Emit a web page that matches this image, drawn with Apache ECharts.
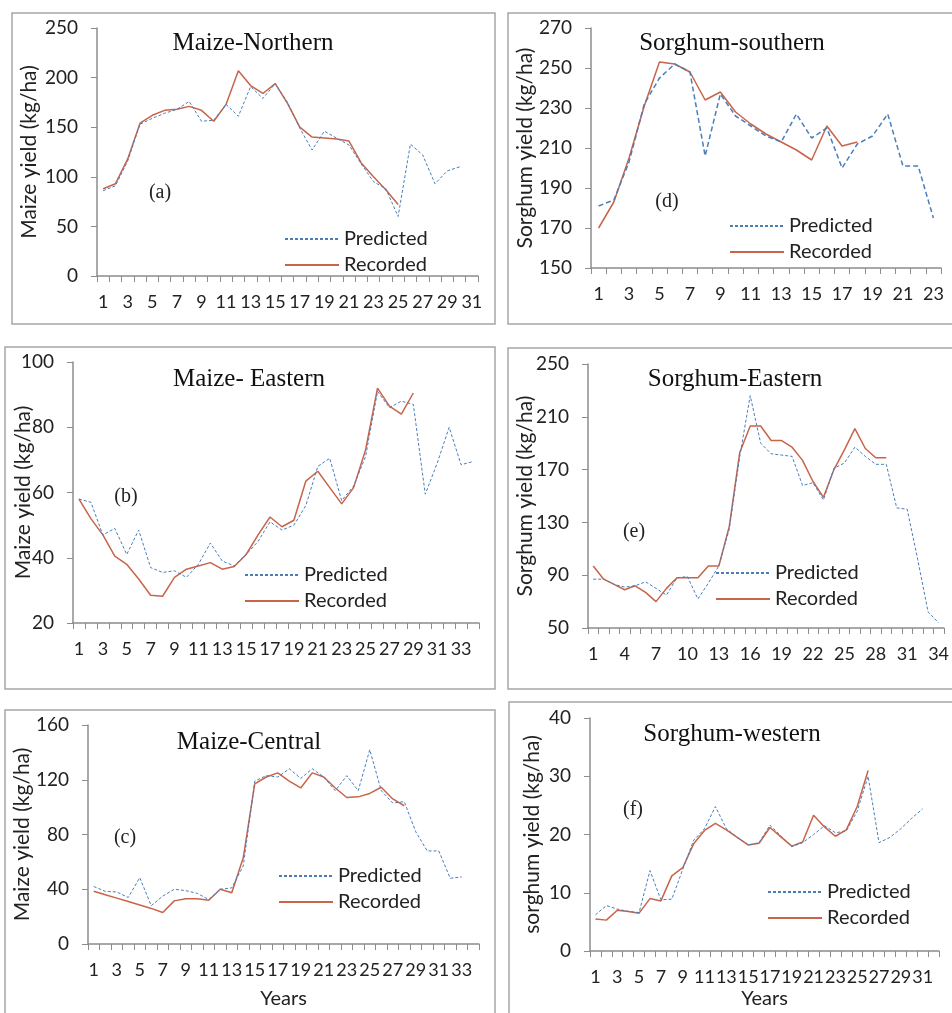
<!DOCTYPE html>
<html>
<head>
<meta charset="utf-8">
<title>Yield prediction</title>
<script src="https://cdn.jsdelivr.net/npm/echarts@6/dist/echarts.min.js"></script>
<style>
    html, body {margin: 0; padding: 0; background: #fff;}
    #yieldCharts {width: 952px; height: 1013px;}
</style>
</head>
<body>
<div id="yieldCharts"></div>
<script>
// 年份刻度
var years23 = ['1','2','3','4','5','6','7','8','9','10','11','12','13','14','15','16','17','18','19','20','21','22','23'];
var years31 = ['1','2','3','4','5','6','7','8','9','10','11','12','13','14','15','16','17','18','19','20','21','22','23','24','25','26','27','28','29','30','31'];
var years32 = ['1','2','3','4','5','6','7','8','9','10','11','12','13','14','15','16','17','18','19','20','21','22','23','24','25','26','27','28','29','30','31','32'];
var years34 = ['1','2','3','4','5','6','7','8','9','10','11','12','13','14','15','16','17','18','19','20','21','22','23','24','25','26','27','28','29','30','31','32','33','34'];

// (a) Maize-Northern
var maizeNorthPred = [86, 91, 116, 153, 159, 164, 168, 176, 156, 157, 173, 161, 191, 179, 194, 175, 149, 127, 146, 139, 132, 113, 95, 88, 60, 133, 122, 93, 106, 110];
var maizeNorthRec = [88, 93, 118, 154, 162, 167, 168, 171, 167, 156, 173, 207, 192, 184, 194, 174, 150, 140, 139, 138, 136, 114, 100, 87, 72];

// (d) Sorghum-southern
var sorghumSouthPred = [181, 184, 203, 232, 245, 252, 248, 206, 237, 226, 221, 216, 213, 227, 215, 220, 200, 212, 216, 227, 201, 201, 175];
var sorghumSouthRec = [170, 183, 205, 231, 253, 252, 248, 234, 238, 228, 222, 217, 213, 209, 204, 221, 211, 213];

// (b) Maize- Eastern
var maizeEastPred = [58, 57, 47, 49, 41, 48.5, 37, 35.5, 36, 34, 38, 44.5, 39, 37.5, 41, 45, 51, 48.5, 50, 56, 68, 70.5, 57.5, 62, 71, 91, 86, 88, 87, 59.5, 69, 80, 68.5, 69.5];
var maizeEastRec = [58, 52, 47, 40.5, 38, 33.5, 28.5, 28.2, 34, 36.5, 37.5, 38.5, 36.5, 37.3, 41, 47, 52.5, 49.5, 51.5, 63.5, 66.5, 61.5, 56.5, 61.5, 73, 92, 86.5, 84, 90.5];

// (e) Sorghum-Eastern
var sorghumEastPred = [87, 87, 83, 81, 82, 85, 80, 75, 88, 89, 72, 84, 97, 125, 180, 226, 190, 182, 181, 180, 158, 160, 147, 171, 175, 187, 180, 174, 174, 141, 140, 102, 62, 54];
var sorghumEastRec = [97, 87, 83, 79, 82, 77, 70, 80, 88, 88, 88, 97, 97, 127, 183, 203, 203, 192, 192, 187, 177, 161, 149, 170, 185, 201, 186, 179, 179];

// (c) Maize-Central
var maizeCentralPred = [42, 38.5, 38, 34, 48.5, 28, 35, 40, 39, 37, 32.5, 40, 41, 57, 119, 123, 122, 128, 121, 128, 122, 112, 123, 112, 142, 112, 103, 104, 82, 68, 68, 48, 49];
var maizeCentralRec = [38.5, 36, 33.5, 31, 28.5, 26, 23, 31.5, 33, 33, 32, 40, 37.5, 63, 117, 122, 125, 119, 114, 125, 122, 114, 107, 107.5, 110, 114.5, 106, 101];

// (f) Sorghum-western
var sorghumWestPred = [6.2, 7.8, 7.2, 6.8, 6.6, 13.8, 8.8, 8.9, 14, 19, 21, 24.8, 21, 19.5, 18.2, 18.6, 21.6, 19.8, 17.9, 18.6, 20, 21.5, 20.3, 20.6, 24, 30, 18.6, 19.5, 21, 22.8, 24.4];
var sorghumWestRec = [5.5, 5.3, 7, 6.8, 6.5, 9, 8.6, 12.9, 14.3, 18.4, 20.7, 21.9, 20.8, 19.5, 18.2, 18.5, 21.2, 19.6, 18, 18.7, 23.3, 21.3, 19.7, 20.8, 24.8, 31];

var PRED_COLOR = '#4a7ebb';
var REC_COLOR = '#c8644a';
var AXIS_COLOR = '#8c8c8c';
var SANS = 'Lato';

// 每个小图的配置
var panels = [
    {title: 'Maize-Northern', tag: '(a)', yName: 'Maize yield (kg/ha)', years: years31, pred: maizeNorthPred, rec: maizeNorthRec,
        grid: [97, 28, 381, 248], min: 0, max: 250, step: 50, labelEvery: 1, nameGap: 57,
        box: [12, 13, 483, 311], titleAt: [253, 43], tagAt: [160, 193], legendAt: [279, 224]},
    {title: 'Sorghum-southern', tag: '(d)', yName: 'Sorghum yield (kg/ha)', years: years23, pred: sorghumSouthPred, rec: sorghumSouthRec,
        grid: [591, 28, 350, 240], min: 150, max: 270, step: 20, labelEvery: 1, nameGap: 55, dash: [5, 3], predWidth: 1.5,
        box: [508, 13, 460, 311], titleAt: [732, 43], tagAt: [667, 202], legendAt: [724, 211]},
    {title: 'Maize- Eastern', tag: '(b)', yName: 'Maize yield (kg/ha)', years: years34, pred: maizeEastPred, rec: maizeEastRec,
        grid: [73, 362, 406, 261], min: 20, max: 100, step: 20, labelEvery: 1, nameGap: 39,
        box: [5, 347, 490, 342], titleAt: [249, 379], tagAt: [126, 497], legendAt: [239, 560]},
    {title: 'Sorghum-Eastern', tag: '(e)', yName: 'Sorghum yield (kg/ha)', years: years34, pred: sorghumEastPred, rec: sorghumEastRec,
        grid: [588, 364, 358, 264], min: 50, max: 250, step: 40, labelEvery: 2, nameGap: 52,
        box: [508, 348, 460, 341], titleAt: [735, 379], tagAt: [634, 532], legendAt: [710, 558]},
    {title: 'Maize-Central', tag: '(c)', yName: 'Maize yield (kg/ha)', years: years34, pred: maizeCentralPred, rec: maizeCentralRec,
        grid: [88, 725, 391, 219], min: 0, max: 160, step: 40, labelEvery: 1, nameGap: 55, xName: 'Years', xNameGap: 45,
        box: [5, 710, 490, 320], titleAt: [249, 742], tagAt: [125, 838], legendAt: [273, 861]},
    {title: 'Sorghum-western', tag: '(f)', yName: 'sorghum yield (kg/ha)', years: years32, pred: sorghumWestPred, rec: sorghumWestRec,
        grid: [590, 718, 349, 233], min: 0, max: 40, step: 10, labelEvery: 1, nameGap: 47, xName: 'Years', xNameGap: 38,
        box: [509, 702, 460, 330], titleAt: [732, 734], tagAt: [633, 810], legendAt: [762, 877]}
];

function buildOption() {
    var option = {
        backgroundColor: '#fff',
        animation: false,
        grid: [], xAxis: [], yAxis: [], series: [], legend: [], graphic: []
    };
    for (var i = 0; i < panels.length; i++) {
        var p = panels[i];
        option.grid.push({left: p.grid[0], top: p.grid[1], width: p.grid[2], height: p.grid[3], containLabel: false});
        option.xAxis.push({
            type: 'category', gridIndex: i, data: p.years, boundaryGap: true,
            name: p.xName || '', nameLocation: 'middle', nameGap: p.xNameGap || 0, nameMoveOverlap: false,
            nameTextStyle: {fontFamily: SANS, fontSize: 20, color: '#222'},
            axisLine: {lineStyle: {color: AXIS_COLOR, width: 1.5}},
            axisTick: {show: true, alignWithLabel: false, interval: 0, length: 6, lineStyle: {color: AXIS_COLOR}},
            axisLabel: {interval: p.labelEvery, margin: 17, fontFamily: SANS, fontSize: 18, color: '#222'},
            splitLine: {show: false}
        });
        option.yAxis.push({
            type: 'value', gridIndex: i, min: p.min, max: p.max, interval: p.step,
            name: p.yName, nameLocation: 'middle', nameGap: p.nameGap, nameRotate: 90, nameMoveOverlap: false,
            nameTextStyle: {fontFamily: SANS, fontSize: 21, color: '#222'},
            axisLine: {show: true, lineStyle: {color: AXIS_COLOR, width: 1.5}},
            axisTick: {show: true, length: 6, lineStyle: {color: AXIS_COLOR}},
            axisLabel: {margin: 19, fontFamily: SANS, fontSize: 19, color: '#222'},
            splitLine: {show: false}
        });
        option.series.push({
            name: 'Predicted', type: 'line', xAxisIndex: i, yAxisIndex: i, data: p.pred,
            symbol: 'none', z: 3,
            lineStyle: {color: PRED_COLOR, width: p.predWidth || 1, type: p.dash || [3, 2]},
            itemStyle: {color: PRED_COLOR}
        });
        option.series.push({
            name: 'Recorded', type: 'line', xAxisIndex: i, yAxisIndex: i, data: p.rec,
            symbol: 'none', z: 2,
            lineStyle: {color: REC_COLOR, width: 1.5},
            itemStyle: {color: REC_COLOR}
        });
        option.legend.push({
            data: ['Predicted', 'Recorded'], orient: 'vertical',
            left: p.legendAt[0], top: p.legendAt[1],
            itemWidth: 54, itemHeight: 14, itemGap: 6, selectedMode: false,
            itemStyle: {opacity: 0},
            textStyle: {fontFamily: SANS, fontSize: 20, color: '#222'}
        });
        // 外框
        option.graphic.push({
            type: 'rect', silent: true, z: -1,
            shape: {x: p.box[0], y: p.box[1], width: p.box[2], height: p.box[3]},
            style: {fill: 'none', stroke: '#a6a6a6', lineWidth: 1.5}
        });
        option.graphic.push({
            type: 'text', silent: true, x: p.titleAt[0], y: p.titleAt[1],
            style: {text: p.title, font: '25px "Liberation Serif"', fill: '#111', align: 'center', verticalAlign: 'middle'}
        });
        option.graphic.push({
            type: 'text', silent: true, x: p.tagAt[0], y: p.tagAt[1],
            style: {text: p.tag, font: '20px "Liberation Serif"', fill: '#222', align: 'center', verticalAlign: 'middle'}
        });
    }
    return option;
}

var chartDom = document.getElementById('yieldCharts');
var myChart = echarts.init(chartDom, null, {renderer: 'canvas'});
myChart.setOption(buildOption());
</script>
</body>
</html>
